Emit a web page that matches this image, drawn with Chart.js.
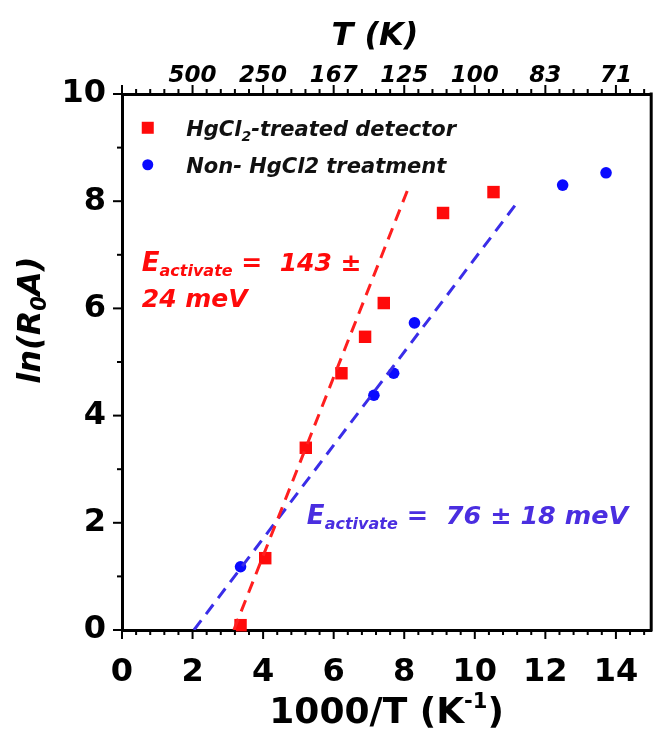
<!DOCTYPE html>
<html>
<head>
<meta charset="utf-8">
<script src="https://cdn.jsdelivr.net/npm/chart.js@4.4.1/dist/chart.umd.min.js"></script>
<style>
html,body{margin:0;padding:0;background:#fff;}
#wrap{width:660px;height:738px;position:relative;}
</style>
</head>
<body>
<div id="wrap"><canvas id="c"></canvas></div>
<script>
// ---- data ----
const treatedX = [3.36, 4.06, 5.21, 6.22, 6.89, 7.42, 9.10, 10.53];
const treatedY = [0.09, 1.34, 3.40, 4.79, 5.47, 6.10, 7.78, 8.17];
const untreatedX = [3.36, 7.14, 7.70, 8.29, 12.49, 13.72];
const untreatedY = [1.18, 4.38, 4.79, 5.73, 8.30, 8.53];
const treatedFitX = [3.17, 8.12];
const treatedFitY = [0, 8.25];
const untreatedFitX = [2.04, 11.15];
const untreatedFitY = [0, 7.93];
const xTicks = [0, 2, 4, 6, 8, 10, 12, 14];
const yTicks = [0, 2, 4, 6, 8, 10];
const seriesNames = ['HgCl2-treated detector', 'Non- HgCl2 treatment'];

const RED = '#ff0a0a';
const BLUE = '#0a0aff';
const RED_LINE = '#ff1f1f';
const BLUE_LINE = '#3a2de8';
const BLUE_TXT = '#4a2ee0';
const FONT = '"DejaVu Sans", "Liberation Sans", sans-serif';

function pts(xs, ys){ return xs.map((x,i)=>({x:x, y:ys[i]})); }
function isEven(v){ return Math.abs(v/2 - Math.round(v/2)) < 1e-6; }

Chart.defaults.color = '#000';
Chart.defaults.font.family = FONT;

// rich text helper (for sub / superscripts)
function drawRich(ctx, parts, x, y, align){
  let total = 0;
  parts.forEach(p=>{ ctx.font = p.font; p.w = ctx.measureText(p.t).width; total += p.w; });
  let cx = align === 'center' ? x - total/2 : x;
  parts.forEach(p=>{ ctx.font = p.font; ctx.fillText(p.t, cx, y + (p.dy||0)); cx += p.w; });
  return total;
}

const decor = {
  id: 'decor',
  afterDraw(chart){
    const ctx = chart.ctx;
    const xs = chart.scales.x, ys = chart.scales.y;
    const a = chart.chartArea;
    ctx.save();
    // right frame line
    ctx.strokeStyle = '#000';
    ctx.lineWidth = 3;
    ctx.beginPath();
    ctx.moveTo(a.right, a.top - 1.5);
    ctx.lineTo(a.right, a.bottom + 1.5);
    ctx.stroke();
    // tick marks
    ctx.lineWidth = 2;
    for (let i = 0; i <= 37; i++) {
      const v = i * 0.4;
      if (v > 15) break;
      const px = xs.getPixelForValue(v);
      const major = isEven(v);
      const len = major ? 9 : 5;
      ctx.beginPath();
      ctx.moveTo(px, a.bottom); ctx.lineTo(px, a.bottom + len);
      ctx.moveTo(px, a.top); ctx.lineTo(px, a.top - len);
      ctx.stroke();
    }
    for (let v = 0; v <= 10; v++) {
      const py = ys.getPixelForValue(v);
      const len = v % 2 === 0 ? 9 : 5;
      ctx.beginPath();
      ctx.moveTo(a.left, py); ctx.lineTo(a.left - len, py);
      ctx.stroke();
    }
    ctx.textBaseline = 'alphabetic';
    // axis titles
    ctx.fillStyle = '#000';
    drawRich(ctx, [{t:'T (K)', font:'italic bold 32px ' + FONT}], xs.getPixelForValue(7.17), 45, 'center');
    drawRich(ctx, [
      {t:'1000/T (K', font:'bold 36px ' + FONT},
      {t:'-1', font:'bold 21px ' + FONT, dy:-15},
      {t:')', font:'bold 36px ' + FONT}
    ], xs.getPixelForValue(7.5), 723, 'center');
    ctx.save();
    ctx.translate(40, ys.getPixelForValue(5.78));
    ctx.rotate(-Math.PI/2);
    drawRich(ctx, [
      {t:'ln(R', font:'italic bold 32px ' + FONT},
      {t:'0', font:'italic bold 21px ' + FONT, dy:6},
      {t:'A)', font:'italic bold 32px ' + FONT}
    ], 0, 0, 'center');
    ctx.restore();
    // legend
    const lx = xs.getPixelForValue(0.73);
    const ly1 = ys.getPixelForValue(9.37), ly2 = ys.getPixelForValue(8.68);
    ctx.fillStyle = RED;
    ctx.fillRect(lx - 6, ly1 - 6, 12, 12);
    ctx.fillStyle = BLUE;
    ctx.beginPath(); ctx.arc(lx, ly2, 5.5, 0, Math.PI*2); ctx.fill();
    ctx.fillStyle = '#111';
    const tx = xs.getPixelForValue(1.82);
    drawRich(ctx, [
      {t:'HgCl', font:'italic bold 21px ' + FONT},
      {t:'2', font:'italic bold 14px ' + FONT, dy:5},
      {t:'-treated detector', font:'italic bold 21px ' + FONT}
    ], tx, ly1 + 8, 'left');
    drawRich(ctx, [{t:seriesNames[1], font:'italic bold 21px ' + FONT}], tx, ly2 + 8, 'left');
    // activation energy annotations
    ctx.fillStyle = RED;
    const rx = xs.getPixelForValue(0.56);
    drawRich(ctx, [
      {t:'E', font:'italic bold 26px ' + FONT},
      {t:'activate', font:'italic bold 16px ' + FONT, dy:5},
      {t:' =  143 \u00b1', font:'italic bold 25px ' + FONT}
    ], rx, ys.getPixelForValue(6.70), 'left');
    drawRich(ctx, [{t:'24 meV', font:'italic bold 25px ' + FONT}], rx, ys.getPixelForValue(6.02), 'left');
    ctx.fillStyle = BLUE_TXT;
    drawRich(ctx, [
      {t:'E', font:'italic bold 26px ' + FONT},
      {t:'activate', font:'italic bold 16px ' + FONT, dy:5},
      {t:' =  76 \u00b1 18 meV', font:'italic bold 25.5px ' + FONT}
    ], xs.getPixelForValue(5.24), ys.getPixelForValue(1.98), 'left');
    ctx.restore();
  }
};

new Chart(document.getElementById('c'), {
  type: 'scatter',
  data: {
    datasets: [
      { label: 'HgCl2 fit', data: pts(treatedFitX, treatedFitY), showLine: true,
        borderColor: RED_LINE, borderWidth: 3, borderDash: [12, 8], pointRadius: 0, fill: false },
      { label: 'Non-HgCl2 fit', data: pts(untreatedFitX, untreatedFitY), showLine: true,
        borderColor: BLUE_LINE, borderWidth: 3, borderDash: [12, 8], pointRadius: 0, fill: false },
      { label: seriesNames[0], data: pts(treatedX, treatedY), pointStyle: 'rect',
        pointRadius: 8.8, pointHoverRadius: 8.8, backgroundColor: RED, borderWidth: 0, clip: false },
      { label: seriesNames[1], data: pts(untreatedX, untreatedY), pointStyle: 'circle',
        pointRadius: 5.8, pointHoverRadius: 5.8, backgroundColor: BLUE, borderWidth: 0, clip: false }
    ]
  },
  options: {
    responsive: true,
    maintainAspectRatio: false,
    animation: false,
    layout: { padding: { left: 0, right: 3, top: 0, bottom: 0 } },
    plugins: { legend: { display: false }, tooltip: { enabled: false } },
    scales: {
      x: {
        type: 'linear', position: 'bottom', min: 0, max: 15,
        afterBuildTicks: s => { s.ticks = xTicks.map(v => ({value: v})); },
        ticks: { font: { size: 32, weight: 'bold', family: FONT }, padding: 15, maxRotation: 0,
                 callback: v => isEven(v) ? String(v) : '' },
        grid: { display: false },
        border: { display: true, color: '#000', width: 3 },
        afterFit: s => { s.height = 108; }
      },
      xTop: {
        type: 'linear', position: 'top', min: 0, max: 15,
        afterBuildTicks: s => { s.ticks = xTicks.map(v => ({value: v})); },
        ticks: { font: { size: 23, weight: 'bold', style: 'italic', family: FONT }, padding: -4, maxRotation: 0,
                 callback: v => (v === 0) ? '' : String(Math.round(1000 / v)) },
        grid: { display: false },
        border: { display: true, color: '#000', width: 3 },
        afterFit: s => { s.height = 94; }
      },
      y: {
        type: 'linear', position: 'left', min: 0, max: 10,
        afterBuildTicks: s => { s.ticks = yTicks.map(v => ({value: v})); },
        ticks: { font: { size: 32, weight: 'bold', family: FONT }, padding: 8 },
        grid: { display: false },
        border: { display: true, color: '#000', width: 3 },
        afterFit: s => { s.width = 122; }
      }
    }
  },
  plugins: [decor]
});
</script>
</body>
</html>
